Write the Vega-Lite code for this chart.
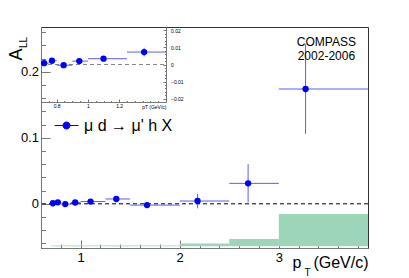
{
  "$schema": "https://vega.github.io/schema/vega-lite/v6.json",
  "autosize": {"type": "none"},
  "padding": {"left": 41, "top": 27, "right": 41, "bottom": 30},
  "width": 327,
  "height": 221,
  "config": {
    "font": "Liberation Sans",
    "view": {"stroke": "#333", "strokeWidth": 1},
    "axis": {"grid": false, "domainColor": "#777", "tickColor": "#777", "labelColor": "#000", "titleColor": "#000", "titleFontWeight": "normal", "labelFont": "Liberation Sans", "titleFont": "Liberation Sans"}
  },
  "data": {
    "values": [
      {"pt": 0.72, "lo": 0.70, "hi": 0.75, "A": 0.0008, "err": 0.0006, "sys_top": -0.0632},
      {"pt": 0.77, "lo": 0.75, "hi": 0.80, "A": 0.0022, "err": 0.0007, "sys_top": -0.0632},
      {"pt": 0.845, "lo": 0.80, "hi": 0.90, "A": -0.0004, "err": 0.0007, "sys_top": -0.0632},
      {"pt": 0.945, "lo": 0.90, "hi": 1.00, "A": 0.0020, "err": 0.0008, "sys_top": -0.0632},
      {"pt": 1.10, "lo": 1.00, "hi": 1.25, "A": 0.0034, "err": 0.0009, "sys_top": -0.0632},
      {"pt": 1.36, "lo": 1.25, "hi": 1.50, "A": 0.0073, "err": 0.0025, "sys_top": -0.0632},
      {"pt": 1.67, "lo": 1.50, "hi": 2.00, "A": -0.0020, "err": 0.0045, "sys_top": -0.0632},
      {"pt": 2.18, "lo": 2.00, "hi": 2.50, "A": 0.0042, "err": 0.011, "sys_top": -0.0602},
      {"pt": 2.69, "lo": 2.50, "hi": 3.00, "A": 0.031, "err": 0.029, "sys_top": -0.0535},
      {"pt": 3.27, "lo": 3.00, "hi": 4.00, "A": 0.174, "err": 0.068, "sys_top": -0.0156}
    ]
  },
  "resolve": {"scale": {"x": "independent", "y": "independent"}, "axis": {"x": "independent", "y": "independent"}},
  "layer": [
    {
      "mark": {"type": "rect", "color": "#9dd5b9", "clip": true},
      "encoding": {
        "x": {"field": "lo", "type": "quantitative", "scale": {"domain": [0.6, 3.9], "nice": false, "zero": false},
          "axis": {"orient": "bottom", "values": [0.8, 1.2, 1.4, 1.6, 1.8, 2.2, 2.4, 2.6, 2.8, 3.2, 3.4, 3.6, 3.8], "tickSize": -4, "labels": false, "domain": false, "title": "T", "titleFontSize": 10, "titleX": 263, "titleY": 27.5, "titleAlign": "left", "titleAnchor": "start", "titleBaseline": "alphabetic"}},
        "x2": {"field": "hi"},
        "y": {"field": "sys_top", "type": "quantitative", "scale": {"domain": [-0.067, 0.268], "nice": false, "zero": false},
          "axis": {"orient": "left", "values": [-0.06, -0.04, -0.02, 0.02, 0.04, 0.06, 0.08, 0.12, 0.14, 0.16, 0.18, 0.22, 0.24, 0.26], "tickSize": -4.5, "labels": false, "domain": false, "title": "LL", "titleFontSize": 10, "titleX": -14.3, "titleY": 15, "titleAlign": "center", "titleAnchor": "middle", "titleBaseline": "alphabetic", "titleAngle": 270}},
        "y2": {"datum": -0.0645}
      }
    },
    {
      "data": {"values": [{}]},
      "mark": {"type": "rule", "strokeDash": [4, 3], "color": "#000"},
      "encoding": {
        "y": {"datum": 0, "type": "quantitative", "scale": {"domain": [-0.067, 0.268], "nice": false, "zero": false}, "axis": null}
      }
    },
    {
      "mark": {"type": "rule", "color": "#5a5aff", "clip": true},
      "encoding": {
        "x": {"field": "lo", "type": "quantitative", "scale": {"domain": [0.6, 3.9], "nice": false, "zero": false}, "axis": null},
        "x2": {"field": "hi"},
        "y": {"field": "A", "type": "quantitative", "scale": {"domain": [-0.067, 0.268], "nice": false, "zero": false}, "axis": null}
      }
    },
    {
      "mark": {"type": "errorbar", "color": "#5a5aff", "ticks": false},
      "encoding": {
        "x": {"field": "pt", "type": "quantitative", "scale": {"domain": [0.6, 3.9], "nice": false, "zero": false}, "axis": null},
        "y": {"field": "A", "type": "quantitative", "scale": {"domain": [-0.067, 0.268], "nice": false, "zero": false}, "axis": null},
        "yError": {"field": "err"}
      }
    },
    {
      "mark": {"type": "point", "filled": true, "size": 40, "opacity": 1},
      "encoding": {
        "x": {"field": "pt", "type": "quantitative", "scale": {"domain": [0.6, 3.9], "nice": false, "zero": false},
          "axis": {"orient": "bottom", "values": [1, 2, 3], "tickSize": -8, "labelFontSize": 13, "labelPadding": 11.5, "format": "d", "title": "p\u00a0\u00a0\u2009(GeV/c)", "titleFontSize": 16, "titleX": 327, "titleY": 19, "titleAlign": "right", "titleAnchor": "end", "titleBaseline": "alphabetic"}},
        "y": {"field": "A", "type": "quantitative", "scale": {"domain": [-0.067, 0.268], "nice": false, "zero": false},
          "axis": {"orient": "left", "values": [0, 0.1, 0.2], "tickSize": -9, "labelFontSize": 13, "labelPadding": 11.5, "format": "~g", "title": "A", "titleFontSize": 18, "titleX": -19.3, "titleY": 27, "titleAlign": "center", "titleAnchor": "middle", "titleBaseline": "alphabetic", "titleAngle": 270}},
        "color": {"datum": "μ d → μ' h X", "type": "nominal", "scale": {"range": ["#0000ff"]},
          "legend": {"orient": "none", "legendX": 13, "legendY": 86, "title": null, "padding": 0,
            "symbolType": "M -1 0 L 1 0 M 0.29 0 A 0.29 0.29 0 1 1 -0.29 0 A 0.29 0.29 0 1 1 0.29 0 Z",
            "symbolSize": 576, "symbolFillColor": "#0000ff", "symbolStrokeColor": "#0000ff", "symbolStrokeWidth": 1,
            "labelFontSize": 16, "labelOffset": 5, "labelColor": "#000", "labelFont": "Liberation Sans"}}
      }
    },
    {
      "data": {"values": [{}]},
      "mark": {"type": "text", "text": ["COMPASS", "2002-2006"], "fontSize": 12, "lineHeight": 13.5, "align": "center", "baseline": "alphabetic", "color": "#000"},
      "encoding": {
        "x": {"datum": 3.48, "type": "quantitative", "scale": {"domain": [0.6, 3.9], "nice": false, "zero": false}, "axis": null},
        "y": {"datum": 0.2386, "type": "quantitative", "scale": {"domain": [-0.067, 0.268], "nice": false, "zero": false}, "axis": null}
      }
    },
    {
      "data": {"values": [{}]},
      "mark": {"type": "rule", "strokeDash": [4, 3], "color": "#888"},
      "encoding": {
        "x": {"datum": 0.7, "type": "quantitative", "scale": {"domain": [0.7, 1.5], "nice": false, "zero": false, "range": [0, 125]},
          "axis": {"orient": "bottom", "offset": -146, "values": [0.75, 0.85, 0.9, 0.95, 1.05, 1.1, 1.15, 1.25, 1.3, 1.35, 1.4, 1.45], "tickSize": -1.5, "labels": false, "domain": false, "title": null}},
        "x2": {"datum": 1.5},
        "y": {"datum": 0, "type": "quantitative", "scale": {"domain": [-0.022, 0.022], "nice": false, "zero": false, "range": [75, 0]},
          "axis": {"orient": "right", "offset": -202, "values": [-0.018, -0.016, -0.014, -0.012, -0.008, -0.006, -0.004, -0.002, 0.002, 0.004, 0.006, 0.008, 0.012, 0.014, 0.016, 0.018], "tickSize": -1.5, "labels": false, "domain": false, "title": null}}
      }
    },
    {
      "transform": [{"filter": "datum.pt < 1.5"}],
      "mark": {"type": "rule", "color": "#5a5aff"},
      "encoding": {
        "x": {"field": "lo", "type": "quantitative", "scale": {"domain": [0.7, 1.5], "nice": false, "zero": false, "range": [0, 125]}, "axis": null},
        "x2": {"field": "hi"},
        "y": {"field": "A", "type": "quantitative", "scale": {"domain": [-0.022, 0.022], "nice": false, "zero": false, "range": [75, 0]}, "axis": null}
      }
    },
    {
      "transform": [{"filter": "datum.pt < 1.5"}],
      "mark": {"type": "errorbar", "color": "#5a5aff", "ticks": false},
      "encoding": {
        "x": {"field": "pt", "type": "quantitative", "scale": {"domain": [0.7, 1.5], "nice": false, "zero": false, "range": [0, 125]}, "axis": null},
        "y": {"field": "A", "type": "quantitative", "scale": {"domain": [-0.022, 0.022], "nice": false, "zero": false, "range": [75, 0]}, "axis": null},
        "yError": {"field": "err"}
      }
    },
    {
      "transform": [{"filter": "datum.pt < 1.5"}],
      "mark": {"type": "point", "filled": true, "size": 40, "opacity": 1, "color": "#0000ff"},
      "encoding": {
        "x": {"field": "pt", "type": "quantitative", "scale": {"domain": [0.7, 1.5], "nice": false, "zero": false, "range": [0, 125]},
          "axis": {"orient": "bottom", "offset": -146, "values": [0.8, 1, 1.2], "tickSize": -3, "labelFontSize": 5, "labelPadding": 4, "format": "~g", "title": "pT (GeV/c)", "titleFontSize": 5, "titleX": 125, "titleY": 6.5, "titleAlign": "right", "titleAnchor": "end", "titleBaseline": "alphabetic"}},
        "y": {"field": "A", "type": "quantitative", "scale": {"domain": [-0.022, 0.022], "nice": false, "zero": false, "range": [75, 0]},
          "axis": {"orient": "right", "offset": -202, "values": [-0.02, -0.01, 0, 0.01, 0.02], "tickSize": -3, "labelFontSize": 5, "labelPadding": 7.5, "format": "~g", "title": null}}
      }
    }
  ]
}
